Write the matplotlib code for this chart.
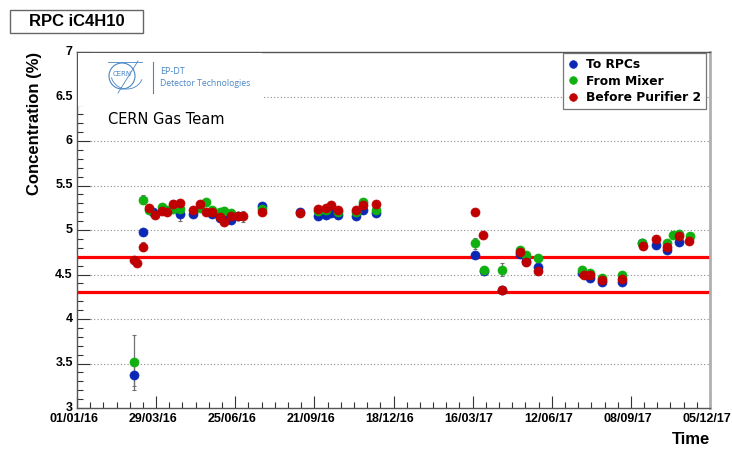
import matplotlib
matplotlib.use("Agg")
import matplotlib.pyplot as plt
import matplotlib.dates as mdates
from matplotlib.patches import Rectangle, Ellipse, Arc
from matplotlib.transforms import ScaledTranslation
import datetime as dt

# ---------------- data ----------------
blue_dates = ["2016-03-04", "2016-03-14", "2016-03-26", "2016-04-17", "2016-04-25", "2016-05-09",
              "2016-05-30", "2016-06-08", "2016-06-13", "2016-06-20", "2016-06-28", "2016-07-25",
              "2016-09-05", "2016-09-25", "2016-10-04", "2016-10-10", "2016-10-17", "2016-11-06",
              "2016-11-14", "2016-11-28", "2017-03-19", "2017-03-29", "2017-04-18", "2017-05-08",
              "2017-05-14", "2017-05-28", "2017-07-16", "2017-07-24", "2017-08-07", "2017-08-29",
              "2017-09-20", "2017-10-06", "2017-10-18", "2017-11-01"]
blue_vals = [3.37, 4.98, 5.20, 5.26, 5.175, 5.18,
             5.175, 5.13, 5.12, 5.11, 5.16, 5.27,
             5.20, 5.155, 5.17, 5.19, 5.17, 5.155,
             5.225, 5.195, 4.72, 4.535, 4.33, 4.73,
             4.655, 4.58, 4.52, 4.46, 4.42, 4.415,
             4.85, 4.83, 4.77, 4.87]
blue_err = [0.12, 0.01, 0.01, 0.01, 0.07, 0.01,
            0.01, 0.01, 0.01, 0.01, 0.01, 0.01,
            0.01, 0.01, 0.01, 0.01, 0.01, 0.01,
            0.01, 0.01, 0.01, 0.01, 0.01, 0.01,
            0.01, 0.01, 0.01, 0.01, 0.01, 0.01,
            0.01, 0.01, 0.01, 0.01]

green_dates = ["2016-03-04", "2016-03-14", "2016-03-21", "2016-04-04", "2016-04-10", "2016-04-17",
               "2016-04-25", "2016-05-17", "2016-05-23", "2016-05-30", "2016-06-08", "2016-06-13",
               "2016-06-20", "2016-07-25", "2016-09-25", "2016-10-04", "2016-10-17", "2016-11-06",
               "2016-11-14", "2016-11-28", "2017-03-19", "2017-03-29", "2017-04-18", "2017-05-08",
               "2017-05-14", "2017-05-28", "2017-07-16", "2017-07-24", "2017-08-07", "2017-08-29",
               "2017-09-20", "2017-10-18", "2017-10-25", "2017-11-01", "2017-11-13"]
green_vals = [3.515, 5.34, 5.23, 5.26, 5.23, 5.24,
              5.24, 5.245, 5.32, 5.23, 5.20, 5.21,
              5.19, 5.24, 5.215, 5.22, 5.20, 5.20,
              5.32, 5.23, 4.85, 4.555, 4.555, 4.78,
              4.72, 4.68, 4.555, 4.52, 4.46, 4.49,
              4.855, 4.855, 4.94, 4.955, 4.935]
green_err = [0.31, 0.05, 0.01, 0.01, 0.01, 0.01,
             0.01, 0.01, 0.01, 0.01, 0.01, 0.05,
             0.01, 0.01, 0.01, 0.01, 0.01, 0.01,
             0.01, 0.01, 0.06, 0.01, 0.07, 0.01,
             0.01, 0.04, 0.04, 0.01, 0.01, 0.01,
             0.01, 0.01, 0.01, 0.01, 0.01]

red_dates = ["2016-03-04", "2016-03-08", "2016-03-14", "2016-03-21", "2016-03-28", "2016-04-04",
             "2016-04-10", "2016-04-17", "2016-04-25", "2016-05-09", "2016-05-17", "2016-05-23",
             "2016-05-30", "2016-06-08", "2016-06-13", "2016-06-20", "2016-06-28", "2016-07-04",
             "2016-07-25", "2016-09-05", "2016-09-25", "2016-10-04", "2016-10-10", "2016-10-17",
             "2016-11-06", "2016-11-14", "2016-11-28", "2017-03-19", "2017-03-28", "2017-04-18",
             "2017-05-08", "2017-05-14", "2017-05-28", "2017-07-18", "2017-07-24", "2017-08-07",
             "2017-08-29", "2017-09-21", "2017-10-06", "2017-10-18", "2017-10-31", "2017-11-12"]
red_vals = [4.66, 4.63, 4.81, 5.25, 5.17, 5.21,
            5.205, 5.29, 5.30, 5.23, 5.29, 5.20,
            5.20, 5.15, 5.09, 5.155, 5.155, 5.155,
            5.20, 5.19, 5.24, 5.25, 5.285, 5.22,
            5.22, 5.28, 5.29, 5.20, 4.94, 4.33,
            4.75, 4.64, 4.535, 4.49, 4.50, 4.44,
            4.45, 4.825, 4.90, 4.81, 4.93, 4.88]
red_err = [0.01, 0.01, 0.05, 0.01, 0.01, 0.01,
           0.01, 0.05, 0.01, 0.01, 0.01, 0.01,
           0.01, 0.01, 0.01, 0.01, 0.01, 0.06,
           0.01, 0.01, 0.01, 0.01, 0.01, 0.01,
           0.01, 0.01, 0.01, 0.01, 0.01, 0.01,
           0.01, 0.05, 0.01, 0.01, 0.01, 0.01,
           0.01, 0.01, 0.01, 0.01, 0.01, 0.01]

series_labels = ["To RPCs", "From Mixer", "Before Purifier 2"]
limit_lines = [4.7, 4.3]
tick_step_days = 88
x_start = "2016-01-01"
n_major = 8

# ---------------- figure ----------------
def to_dates(lst):
    return [dt.datetime.strptime(s, "%Y-%m-%d") for s in lst]

W, H = 732, 449
fig = plt.figure(figsize=(W / 100, H / 100), dpi=100)
ax = fig.add_axes([77 / W, 1 - 408 / H, (710 - 77) / W, (408 - 52) / H])

start = dt.datetime.strptime(x_start, "%Y-%m-%d")
majors = [start + dt.timedelta(days=tick_step_days * i) for i in range(n_major + 1)]
minors = [start + dt.timedelta(days=tick_step_days * i / 6.0) for i in range(n_major * 6 + 1)]
ax.set_xlim(majors[0], majors[-1])
ax.set_ylim(3, 7)

# grid
for yv in [3.5, 4, 4.5, 5, 5.5, 6, 6.5]:
    ax.axhline(yv, color="#8a8a8a", lw=0.8, ls=(0, (1, 2)), zorder=1)

# limit lines
for yv in limit_lines:
    ax.axhline(yv, color="#ff0000", lw=2.3, zorder=2)

colors = ["#0a28b4", "#10b010", "#c00000"]
all_series = [(blue_dates, blue_vals, blue_err), (green_dates, green_vals, green_err),
              (red_dates, red_vals, red_err)]
handles = []
for (d, v, e), c, lab in zip(all_series, colors, series_labels):
    ax.errorbar(to_dates(d), v, yerr=e, fmt="none", ecolor="#707070", elinewidth=0.9,
                capsize=1.5, capthick=0.8, zorder=3)
    h, = ax.plot(to_dates(d), v, "o", color=c, ms=6.5, mec=c, mew=0.5, zorder=4, label=lab)
    handles.append(h)

# ticks
ax.xaxis.set_major_locator(matplotlib.ticker.FixedLocator(mdates.date2num(majors)))
ax.xaxis.set_minor_locator(matplotlib.ticker.FixedLocator(mdates.date2num(minors)))
ax.xaxis.set_major_formatter(mdates.DateFormatter("%d/%m/%y"))
ax.yaxis.set_major_locator(matplotlib.ticker.MultipleLocator(0.5))
ax.yaxis.set_minor_locator(matplotlib.ticker.MultipleLocator(0.1))
ax.yaxis.set_major_formatter(matplotlib.ticker.FuncFormatter(lambda v, p: f"{v:g}"))
ax.tick_params(which="both", direction="in", top=False, right=False, color="#333333")
ax.tick_params(which="major", length=9, width=0.8)
ax.tick_params(which="minor", length=4.5, width=0.8)
ax.tick_params(axis="x", pad=3.5)
ax.tick_params(axis="y", pad=3)
fig.canvas.draw()
xshift = ScaledTranslation(-3.5 / 100, 0, fig.dpi_scale_trans)
yshift = ScaledTranslation(0, 1.5 / 100, fig.dpi_scale_trans)
for lbl in ax.get_xticklabels():
    lbl.set_fontfamily("Liberation Sans")
    lbl.set_fontweight("bold")
    lbl.set_fontsize(9)
    lbl.set_transform(lbl.get_transform() + xshift)
for lbl in ax.get_yticklabels():
    lbl.set_fontfamily("Liberation Sans")
    lbl.set_fontweight("bold")
    lbl.set_fontsize(9)
    lbl.set_transform(lbl.get_transform() + yshift)

for s in ["left", "bottom", "top"]:
    ax.spines[s].set_color("#555555")
    ax.spines[s].set_linewidth(1.0)
ax.spines["right"].set_color("#b0b0b0")
ax.spines["right"].set_linewidth(2.0)

# axis titles
fig.text(35 / W, 1 - 123 / H, "Concentration (%)", rotation=90, ha="center", va="center",
         fontsize=12, fontweight="bold", family="Liberation Sans")
fig.text(710 / W, 1 - 440 / H, "Time", ha="right", va="center",
         fontsize=12, fontweight="bold", family="Liberation Sans")

# title box
fig.patches.append(Rectangle((10 / W, 1 - 33 / H), 133 / W, 23 / H, transform=fig.transFigure,
                             facecolor="white", edgecolor="#666666", lw=1.0))
fig.text(76.5 / W, 1 - 21.5 / H, "RPC iC4H10", ha="center", va="center", fontsize=12,
         fontweight="bold", family="Liberation Sans")

# legend
leg = ax.legend(handles=handles, loc="upper right", bbox_to_anchor=(706 / W, 1 - 53 / H),
                bbox_transform=fig.transFigure, frameon=True, fancybox=False,
                prop={"family": "DejaVu Sans", "weight": "bold", "size": 8.8},
                handlelength=0.8, handletextpad=0.7, borderpad=0.4, labelspacing=0.3,
                markerscale=0.85, borderaxespad=0)
leg.get_frame().set_edgecolor("#555555")
leg.get_frame().set_linewidth(0.9)
leg.set_zorder(10)

# logo area (white background hiding the grid)
fig.patches.append(Rectangle((78 / W, 1 - 106 / H), (262 - 78) / W, (106 - 53) / H,
                             transform=fig.transFigure, facecolor="white", edgecolor="none",
                             zorder=5))
logo_c = "#4a86c5"
cx, cy = 122, 76
fig.patches.append(Ellipse((cx / W, 1 - cy / H), 26 / W, 26 / H, transform=fig.transFigure,
                           facecolor="none", edgecolor=logo_c, lw=0.8, zorder=6))
fig.patches.append(Arc(((cx + 5) / W, 1 - (cy - 2) / H), 32 / W, 30 / H, theta1=200, theta2=330,
                       transform=fig.transFigure, color=logo_c, lw=0.6, zorder=6))
fig.lines.append(plt.Line2D([(cx - 4) / W, (cx + 16) / W], [1 - 93 / H, 1 - 61 / H],
                            transform=fig.transFigure, color=logo_c, lw=0.6, zorder=6))
fig.lines.append(plt.Line2D([(cx - 14) / W, (cx + 20) / W], [1 - 62 / H, 1 - 62 / H],
                            transform=fig.transFigure, color=logo_c, lw=0.6, zorder=6))
fig.text(cx / W, 1 - 74 / H, "CERN", ha="center", va="center", fontsize=5, color=logo_c,
         zorder=7)
fig.lines.append(plt.Line2D([153 / W, 153 / W], [1 - 93 / H, 1 - 62 / H],
                            transform=fig.transFigure, color=logo_c, lw=0.8, zorder=6))
fig.text(160 / W, 1 - 71 / H, "EP-DT", ha="left", va="center", fontsize=6.5, color=logo_c,
         family="Open Sans", zorder=7)
fig.text(160 / W, 1 - 84 / H, "Detector Technologies", ha="left", va="center", fontsize=6.2,
         color=logo_c, family="Open Sans", zorder=7)

fig.text(108 / W, 1 - 120 / H, "CERN Gas Team", ha="left", va="center", fontsize=10.5,
         family="DejaVu Sans", color="black", zorder=7)

fig.savefig("out.png", dpi=100)
